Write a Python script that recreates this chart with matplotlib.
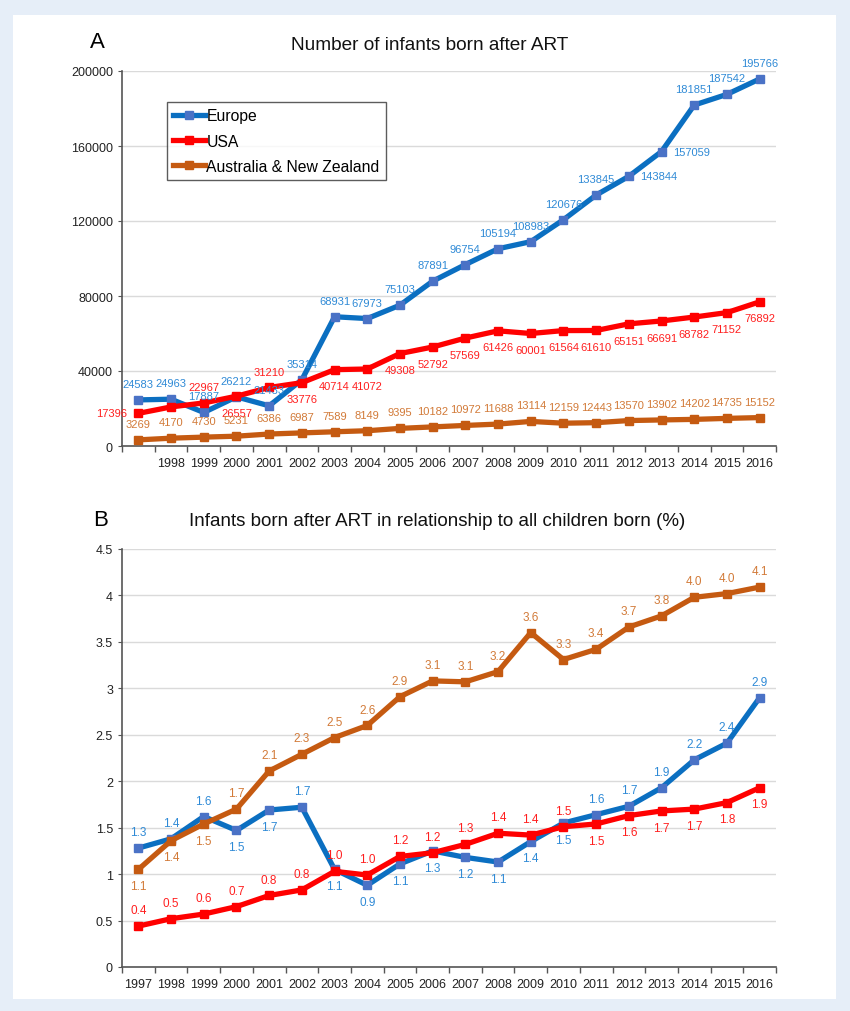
import numpy as np
import matplotlib
matplotlib.use('Agg')
import matplotlib.pyplot as plt
from matplotlib.patches import Rectangle

plt.rcParams['font.family'] = ['Liberation Sans', 'DejaVu Sans']

#------------------------------------------------------------------------------
years = [str(y) for y in range(1997, 2017)]

# panel A: number of infants
europe_n = [24583, 24963, 17887, 26212, 21433, 35314, 68931, 67973, 75103, 87891,
            96754, 105194, 108983, 120676, 133845, 143844, 157059, 181851, 187542, 195766]
usa_n = [17396, 20840, 22967, 26557, 31210, 33776, 40714, 41072, 49308, 52792,
         57569, 61426, 60001, 61564, 61610, 65151, 66691, 68782, 71152, 76892]
anz_n = [3269, 4170, 4730, 5231, 6386, 6987, 7589, 8149, 9395, 10182,
         10972, 11688, 13114, 12159, 12443, 13570, 13902, 14202, 14735, 15152]
usa_n_shown = [True, False] + [True] * 18

# panel B: percent of all births
europe_p = [1.28, 1.38, 1.62, 1.47, 1.69, 1.72, 1.05, 0.88, 1.11, 1.25,
            1.18, 1.13, 1.35, 1.55, 1.64, 1.73, 1.93, 2.23, 2.41, 2.90]
usa_p = [0.44, 0.52, 0.57, 0.65, 0.77, 0.83, 1.03, 0.99, 1.19, 1.23,
         1.32, 1.44, 1.42, 1.51, 1.54, 1.63, 1.68, 1.70, 1.77, 1.93]
anz_p = [1.05, 1.36, 1.54, 1.70, 2.11, 2.29, 2.47, 2.60, 2.91, 3.08,
         3.07, 3.18, 3.60, 3.31, 3.42, 3.66, 3.78, 3.98, 4.02, 4.09]
europe_p_lab = ['1.3', '1.4', '1.6', '1.5', '1.7', '1.7', '1.1', '0.9', '1.1', '1.3',
                '1.2', '1.1', '1.4', '1.5', '1.6', '1.7', '1.9', '2.2', '2.4', '2.9']
usa_p_lab = ['0.4', '0.5', '0.6', '0.7', '0.8', '0.8', '1.0', '1.0', '1.2', '1.2',
             '1.3', '1.4', '1.4', '1.5', '1.5', '1.6', '1.7', '1.7', '1.8', '1.9']
anz_p_lab = ['1.1', '1.4', '1.5', '1.7', '2.1', '2.3', '2.5', '2.6', '2.9', '3.1',
             '3.1', '3.2', '3.6', '3.3', '3.4', '3.7', '3.8', '4.0', '4.0', '4.1']

# where each data label sits: a=above, b=below, l=left, r=right
pos_eu_a = ['a'] * 15 + ['r', 'r', 'a', 'a', 'a']
pos_us_a = ['l', 'a', 'a', 'b', 'a'] + ['b'] * 15
pos_anz_a = ['a'] * 20
pos_eu_b = ['a', 'a', 'a', 'b', 'b', 'a', 'b', 'b', 'b', 'b',
            'b', 'b', 'b', 'b', 'a', 'a', 'a', 'a', 'a', 'a']
pos_us_b = ['a'] * 14 + ['b'] * 6
pos_anz_b = ['b', 'b', 'b'] + ['a'] * 17

C_EU, C_EU_M, C_EU_T = '#0b6fc1', '#4a72c6', '#2f8ad6'
C_US, C_US_T = '#ff0000', '#ff1f1f'
C_ANZ, C_ANZ_T = '#c55a11', '#d27a38'

OFFS = {'a': (0, 11.5, 'center', 'center'), 'b': (0, -12, 'center', 'center'),
        'l': (-8, 0, 'right', 'center'), 'r': (8, 0, 'left', 'center')}

W, H = 850, 1012
fig = plt.figure(figsize=(W / 100, H / 100), dpi=100)
fig.patch.set_facecolor('#e6eef8')
fig.patches.append(Rectangle((13 / W, 1 - 1000 / H), (836 - 13) / W, (1000 - 16) / H,
                             transform=fig.transFigure, facecolor='white',
                             edgecolor='none', zorder=-10))


def style_axes(ax, ymax, ystep, first_label=True):
    x = np.arange(len(years))
    ax.set_xlim(-0.5, len(years) - 0.5)
    ax.set_ylim(0, ymax)
    ax.set_yticks(np.arange(0, ymax + ystep / 2, ystep))
    ax.set_xticks(x)
    labs = list(years)
    if not first_label:
        labs[0] = ''
    ax.set_xticklabels(labs, fontsize=9, color='#222222')
    ax.set_xticks(np.arange(-0.5, len(years), 1), minor=True)
    ax.tick_params(axis='x', which='major', length=0, pad=8)
    ax.tick_params(axis='x', which='minor', length=4, color='#555555', width=1)
    ax.tick_params(axis='y', length=3, color='#555555', labelsize=9, labelcolor='#222222')
    ax.grid(axis='y', color='#dadada', lw=1)
    ax.set_axisbelow(True)
    ax.patch.set_alpha(0)
    for s in ['top', 'right']:
        ax.spines[s].set_visible(False)
    for s in ['left', 'bottom']:
        ax.spines[s].set_color('#555555')
        ax.spines[s].set_linewidth(1.2)


def draw_series(ax, vals, color, mcolor, name):
    x = np.arange(len(vals))
    ax.plot(x, vals, color=color, lw=3.8, marker='s', ms=5.5, mfc=mcolor, mec=mcolor,
            label=name, solid_joinstyle='miter', zorder=3)


def draw_labels(ax, vals, texts, where, color, size, shown=None):
    for i, (v, t, p) in enumerate(zip(vals, texts, where)):
        if shown is not None and not shown[i]:
            continue
        dx, dy, ha, va = OFFS[p]
        ax.annotate(t, (i, v), xytext=(dx, dy), textcoords='offset points',
                    ha=ha, va=va, fontsize=size, color=color, zorder=4)


# ---- panel A
axA = fig.add_axes([122 / W, 1 - 447 / H, 654 / W, 375 / H])
style_axes(axA, 200000, 40000, first_label=False)
draw_series(axA, europe_n, C_EU, C_EU_M, 'Europe')
draw_series(axA, usa_n, C_US, C_US, 'USA')
draw_series(axA, anz_n, C_ANZ, C_ANZ, 'Australia & New Zealand')
draw_labels(axA, europe_n, [str(v) for v in europe_n], pos_eu_a, C_EU_T, 8)
draw_labels(axA, usa_n, [str(v) for v in usa_n], pos_us_a, C_US_T, 8, usa_n_shown)
draw_labels(axA, anz_n, [str(v) for v in anz_n], pos_anz_a, C_ANZ_T, 8)
leg = axA.legend(loc='upper left', bbox_to_anchor=(0.069, 0.917), fontsize=11.3,
                 frameon=True, fancybox=False, edgecolor='#333333', handlelength=2.0,
                 handletextpad=0.1, borderpad=0.4, labelspacing=0.65, borderaxespad=0)
leg.get_frame().set_linewidth(1.0)
fig.text(97 / W, 1 - 42 / H, 'A', fontsize=16, ha='center', va='center')
fig.text(430 / W, 1 - 45 / H, 'Number of infants born after ART', fontsize=13.7,
         ha='center', va='center', color='#111111')

# ---- panel B
axB = fig.add_axes([122 / W, 1 - 968 / H, 654 / W, 418 / H])
style_axes(axB, 4.5, 0.5)
axB.set_yticklabels(['0', '0.5', '1', '1.5', '2', '2.5', '3', '3.5', '4', '4.5'])
draw_series(axB, europe_p, C_EU, C_EU_M, 'Europe')
draw_series(axB, usa_p, C_US, C_US, 'USA')
draw_series(axB, anz_p, C_ANZ, C_ANZ, 'Australia & New Zealand')
draw_labels(axB, europe_p, europe_p_lab, pos_eu_b, C_EU_T, 8.5)
draw_labels(axB, usa_p, usa_p_lab, pos_us_b, C_US_T, 8.5)
draw_labels(axB, anz_p, anz_p_lab, pos_anz_b, C_ANZ_T, 8.5)
fig.text(101 / W, 1 - 520 / H, 'B', fontsize=16, ha='center', va='center')
fig.text(437 / W, 1 - 522 / H, 'Infants born after ART in relationship to all children born (%)',
         fontsize=13.5, ha='center', va='center', color='#111111')

fig.savefig('out.png', dpi=100, facecolor=fig.get_facecolor())
